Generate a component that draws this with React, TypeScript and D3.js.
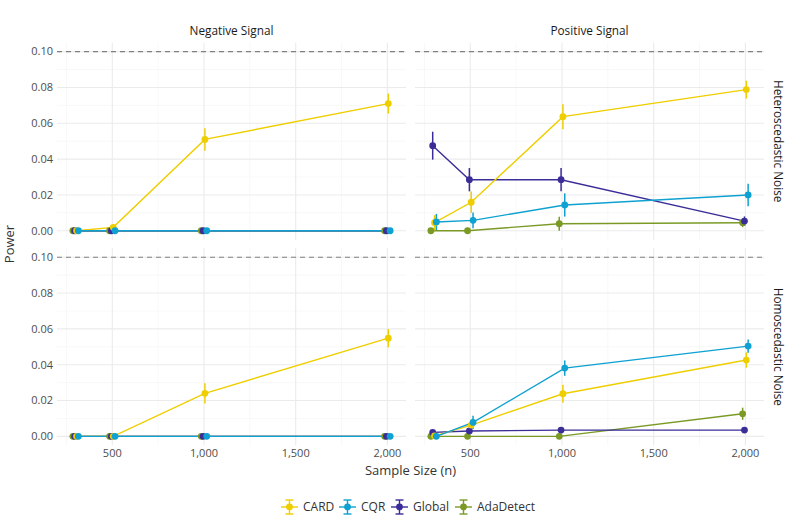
import * as d3 from "d3";

const methods = ["CARD", "CQR", "Global", "AdaDetect"];
const drawOrder = ["AdaDetect", "Global", "CARD", "CQR"];
const colors: Record<string, string> = {
  CARD: "#EFCE00",
  CQR: "#0EA1D1",
  Global: "#3A2D98",
  AdaDetect: "#7A9A25",
};
const dodge: Record<string, number> = { AdaDetect: -15, Global: -5, CARD: 5, CQR: 15 };

const sizes = [300, 500, 1000, 2000];
const signals = ["Negative Signal", "Positive Signal"];
const noises = ["Heteroscedastic Noise", "Homoscedastic Noise"];
const xTicks = [500, 1000, 1500, 2000];
const xMinor = [250, 750, 1250, 1750];
const yTicks = [0, 0.02, 0.04, 0.06, 0.08, 0.1];
const yMinor = [0.01, 0.03, 0.05, 0.07, 0.09];
const alpha = 0.1;

// power and half-width of the error bar, per panel [noise][signal][method]
const zero = [0, 0, 0, 0];
const power: Record<string, number[]>[][] = [
  [
    { CARD: [0, 0.0019, 0.051, 0.071], CQR: zero, Global: zero, AdaDetect: zero },
    {
      CARD: [0.0045, 0.0159, 0.0637, 0.0788],
      CQR: [0.0049, 0.0058, 0.0144, 0.02],
      Global: [0.0475, 0.0285, 0.0285, 0.0054],
      AdaDetect: [0, 0, 0.0039, 0.0045],
    },
  ],
  [
    { CARD: [0, 0, 0.024, 0.0548], CQR: zero, Global: zero, AdaDetect: zero },
    {
      CARD: [0.0003, 0.0063, 0.0238, 0.0426],
      CQR: [0, 0.0078, 0.0381, 0.0504],
      Global: [0.0022, 0.003, 0.0035, 0.0035],
      AdaDetect: [0, 0, 0, 0.0126],
    },
  ],
];
const errs: Record<string, number[]>[][] = [
  [
    { CARD: [0, 0.0008, 0.0063, 0.0056], CQR: zero, Global: zero, AdaDetect: zero },
    {
      CARD: [0.0042, 0.006, 0.007, 0.005],
      CQR: [0.0045, 0.0044, 0.0065, 0.0063],
      Global: [0.0078, 0.0065, 0.0065, 0.0026],
      AdaDetect: [0, 0, 0.0039, 0.0025],
    },
  ],
  [
    { CARD: [0, 0, 0.0056, 0.0051], CQR: zero, Global: zero, AdaDetect: zero },
    {
      CARD: [0.0005, 0.003, 0.005, 0.0043],
      CQR: [0.0005, 0.0037, 0.0043, 0.0037],
      Global: [0.001, 0.001, 0.001, 0.001],
      AdaDetect: [0, 0, 0, 0.0034],
    },
  ],
];

const W = 789;
const H = 526;
const panelX = [57, 415];
const panelW = 349;
const panelY = [42.7, 248.3];
const panelH = 197;
const font = "'Open Sans', 'Noto Sans', sans-serif";

const x = d3.scaleLinear().domain([198.5, 2101.5]).range([0, panelW]);
const y = d3.scaleLinear().domain([-0.005, 0.105]).range([panelH, 0]);
const fmtX = d3.format(",");
const fmtY = d3.format(".2f");

function Panel({ r, c }: { r: number; c: number }) {
  const vals = power[r][c];
  const ers = errs[r][c];
  const line = d3
    .line<[number, number]>()
    .x((d) => x(d[0]))
    .y((d) => y(d[1]));
  return (
    <g transform={`translate(${panelX[c]},${panelY[r]})`}>
      {yMinor.map((t) => (
        <line key={"ym" + t} x1={0} x2={panelW} y1={y(t)} y2={y(t)} stroke="#F3F3F3" strokeWidth={0.6} />
      ))}
      {xMinor.map((t) => (
        <line key={"xm" + t} x1={x(t)} x2={x(t)} y1={0} y2={panelH} stroke="#F3F3F3" strokeWidth={0.6} />
      ))}
      {yTicks.map((t) => (
        <line key={"y" + t} x1={0} x2={panelW} y1={y(t)} y2={y(t)} stroke="#EBEBEB" strokeWidth={1.1} />
      ))}
      {xTicks.map((t) => (
        <line key={"x" + t} x1={x(t)} x2={x(t)} y1={0} y2={panelH} stroke="#EBEBEB" strokeWidth={1.1} />
      ))}
      <line x1={0} x2={panelW} y1={y(alpha)} y2={y(alpha)} stroke="#808080" strokeWidth={1.2} strokeDasharray="5,4" />
      {drawOrder.map((m) => (
        <path
          key={"l" + m}
          d={line(sizes.map((s, i) => [s + dodge[m], vals[m][i]] as [number, number])) || ""}
          fill="none"
          stroke={colors[m]}
          strokeWidth={1.4}
        />
      ))}
      {drawOrder.map((m) =>
        sizes.map((s, i) => (
          <line
            key={"e" + m + s}
            x1={x(s + dodge[m])}
            x2={x(s + dodge[m])}
            y1={y(Math.max(0, vals[m][i] - ers[m][i]))}
            y2={y(vals[m][i] + ers[m][i])}
            stroke={colors[m]}
            strokeWidth={1.5}
          />
        ))
      )}
      {drawOrder.map((m) =>
        sizes.map((s, i) => (
          <circle key={"p" + m + s} cx={x(s + dodge[m])} cy={y(vals[m][i])} r={3.4} fill={colors[m]} />
        ))
      )}
      {c === 0 &&
        yTicks.map((t) => (
          <text key={"yl" + t} x={-4} y={y(t)} dy="0.35em" textAnchor="end" fontSize={11} fill="#4D4D4D">
            {fmtY(t)}
          </text>
        ))}
      {r === 1 &&
        xTicks.map((t) => (
          <text key={"xl" + t} x={x(t)} y={panelH + 11.5} textAnchor="middle" fontSize={11} fill="#4D4D4D">
            {fmtX(t)}
          </text>
        ))}
      {r === 0 && (
        <text x={panelW / 2} y={-8} textAnchor="middle" fontSize={11.8} fill="#1A1A1A">
          {signals[c]}
        </text>
      )}
      {c === 1 && (
        <text
          transform={`translate(${panelW + 14},${panelH / 2}) rotate(90)`}
          textAnchor="middle"
          dy="0.35em"
          fontSize={11.8}
          fill="#1A1A1A"
        >
          {noises[r]}
        </text>
      )}
    </g>
  );
}

const legendX = [281, 339, 391, 455];

function Legend() {
  const cy = 507;
  return (
    <g>
      {methods.map((m, i) => {
        const kx = legendX[i];
        const cx = kx + 8.5;
        return (
          <g key={m}>
            <line x1={kx} x2={kx + 17} y1={cy} y2={cy} stroke={colors[m]} strokeWidth={1.4} />
            <line x1={cx} x2={cx} y1={cy - 7} y2={cy + 7} stroke={colors[m]} strokeWidth={1.4} />
            <line x1={cx - 4} x2={cx + 4} y1={cy - 7} y2={cy - 7} stroke={colors[m]} strokeWidth={1.4} />
            <line x1={cx - 4} x2={cx + 4} y1={cy + 7} y2={cy + 7} stroke={colors[m]} strokeWidth={1.4} />
            <circle cx={cx} cy={cy} r={3.4} fill={colors[m]} />
            <text x={kx + 22} y={cy} dy="0.35em" fontSize={12} fill="#333333">
              {m}
            </text>
          </g>
        );
      })}
    </g>
  );
}

export default function App() {
  const left = panelX[0];
  const right = panelX[1] + panelW;
  return (
    <svg width={W} height={H} style={{ position: "absolute", left: 0, top: 0, fontFamily: font }}>
      <rect width={W} height={H} fill="#FFFFFF" />
      {[0, 1].map((r) => [0, 1].map((c) => <Panel key={`${r}-${c}`} r={r} c={c} />))}
      <text x={(left + right) / 2} y={475} textAnchor="middle" fontSize={13} fill="#333333">
        Sample Size (n)
      </text>
      <text
        transform={`translate(14,${(panelY[0] + panelY[1] + panelH) / 2}) rotate(-90)`}
        textAnchor="middle"
        fontSize={13}
        fill="#333333"
      >
        Power
      </text>
      <Legend />
    </svg>
  );
}
